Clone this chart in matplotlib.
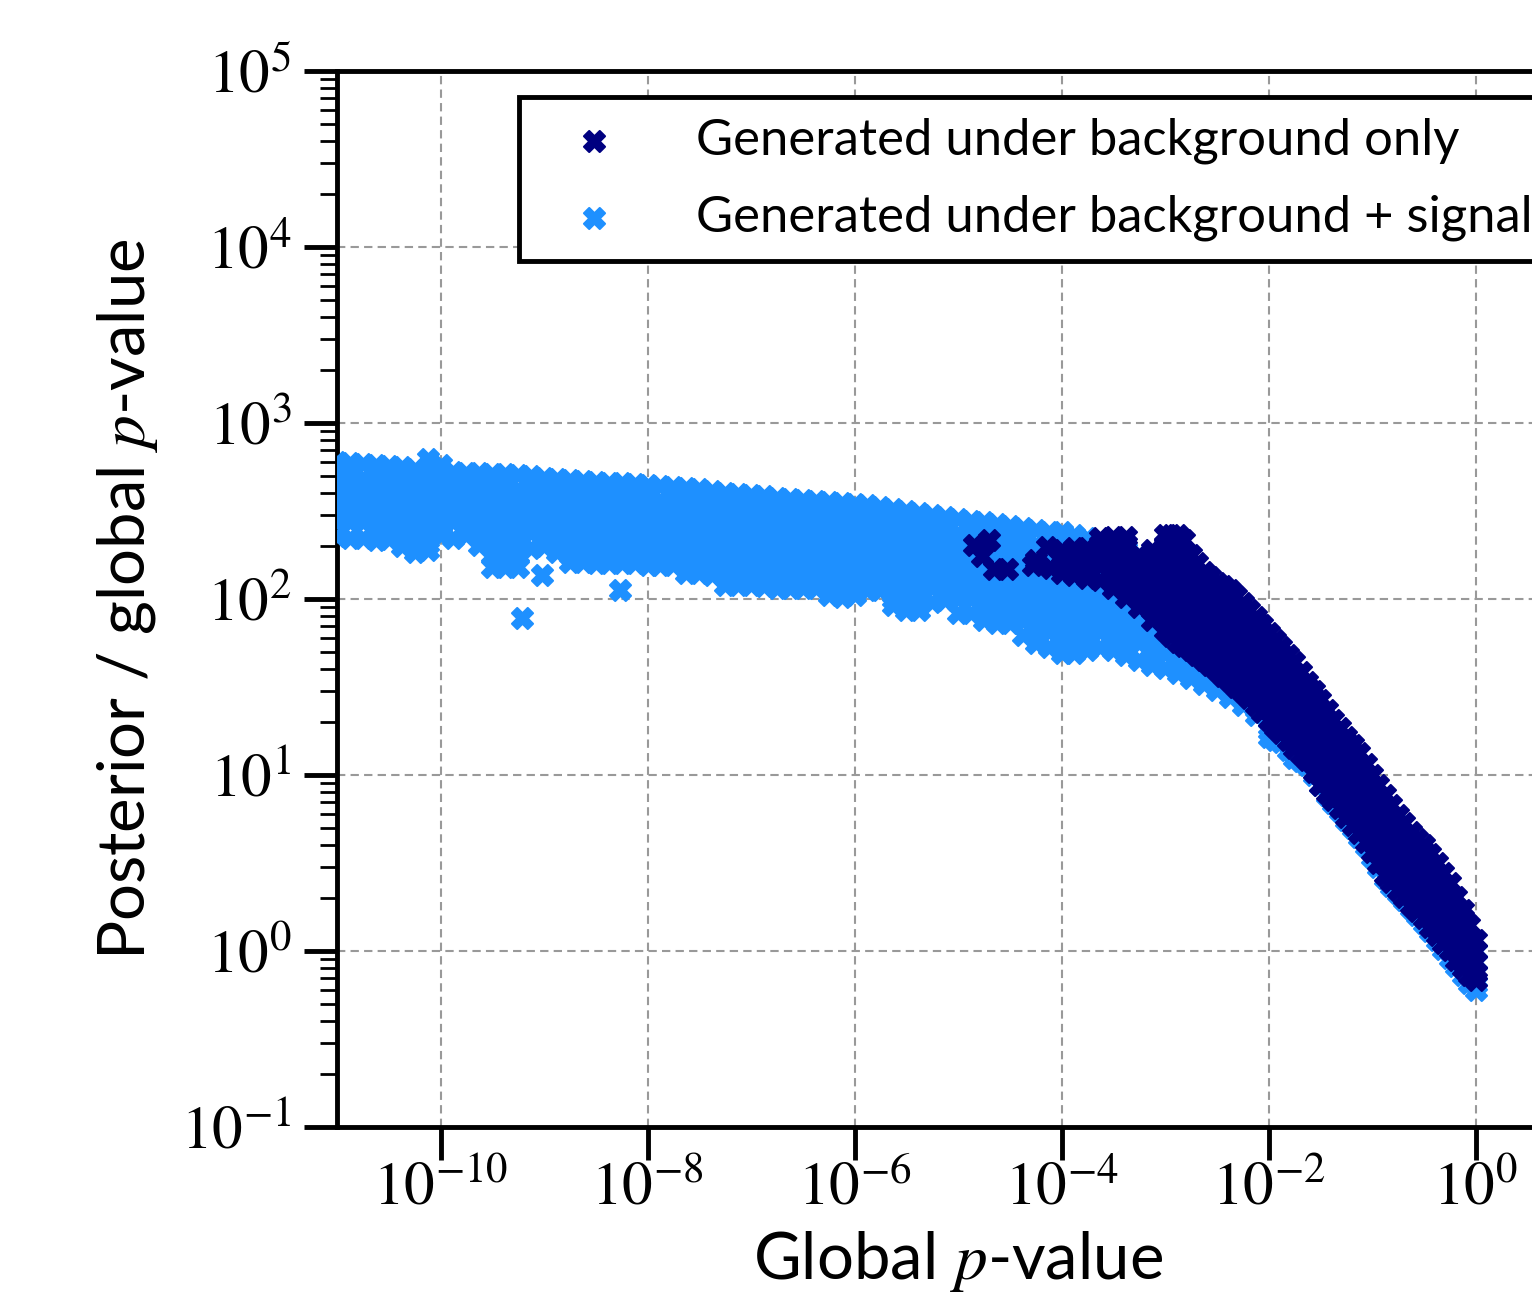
import matplotlib
matplotlib.use("Agg")
import matplotlib.pyplot as plt
from matplotlib.ticker import LogLocator, NullLocator, NullFormatter

plt.rcParams['font.family'] = ['Lato', 'DejaVu Sans']
plt.rcParams['mathtext.fontset'] = 'stix'

# ---------------- data ----------------
# columns of the "background + signal" cloud: global p-value and the
# posterior/global-p ratios observed at that p-value
signal_col_p = [
    1.00e-11, 1.33e-11, 1.78e-11, 2.37e-11, 3.16e-11, 4.22e-11, 5.62e-11, 7.50e-11,
    1.00e-10, 1.33e-10, 1.78e-10, 2.37e-10, 3.16e-10, 4.22e-10, 5.62e-10, 7.50e-10,
    1.00e-9, 1.33e-9, 1.78e-9, 2.37e-9, 3.16e-9, 4.22e-9, 5.62e-9, 7.50e-9,
    1.00e-8, 1.33e-8, 1.78e-8, 2.37e-8, 3.16e-8, 4.22e-8, 5.62e-8, 7.50e-8,
    1.00e-7, 1.33e-7, 1.78e-7, 2.37e-7, 3.16e-7, 4.22e-7, 5.62e-7, 7.50e-7,
    1.00e-6, 1.33e-6, 1.78e-6, 2.37e-6, 3.16e-6, 4.22e-6, 5.62e-6, 7.50e-6,
    1.00e-5, 1.33e-5, 1.78e-5, 2.37e-5, 3.16e-5, 4.22e-5, 5.62e-5, 7.50e-5,
    1.00e-4, 1.33e-4, 1.78e-4, 2.37e-4, 3.16e-4, 4.22e-4, 5.62e-4, 7.50e-4,
    1.00e-3, 1.33e-3, 1.78e-3, 2.37e-3, 3.16e-3, 4.22e-3, 5.62e-3, 7.50e-3,
    1.00e-2, 1.33e-2, 1.78e-2, 2.37e-2, 3.16e-2, 4.22e-2, 5.62e-2, 7.50e-2,
    1.00e-1, 1.33e-1, 1.78e-1, 2.37e-1, 3.16e-1, 4.22e-1, 5.62e-1, 7.50e-1,
    1.00,
]
signal_col_ratio = [
    [600, 562, 487, 422, 365, 316, 274, 228],
    [593, 562, 487, 422, 365, 316, 274, 222],
    [585, 487, 422, 365, 316, 274, 222],
    [577, 487, 422, 365, 316, 274, 237, 216],
    [570, 487, 422, 365, 316, 274, 237, 219],
    [562, 487, 422, 365, 316, 274, 237, 200],
    [548, 487, 422, 365, 316, 274, 237, 205, 185],
    [624, 562, 487, 422, 365, 316, 274, 237, 205, 190],
    [577, 487, 422, 365, 316, 274, 231],
    [527, 487, 422, 365, 316, 274, 222],
    [520, 487, 422, 365, 316, 274, 231],
    [520, 487, 422, 365, 316, 274, 237, 203],
    [514, 487, 422, 365, 316, 274, 237, 205, 178, 152],
    [514, 487, 422, 365, 316, 274, 237, 205, 178, 152],
    [507, 422, 365, 316, 274, 237, 205, 178, 152],
    [500, 422, 365, 316, 274, 237, 195],
    [487, 422, 365, 316, 274, 237, 200],
    [481, 422, 365, 316, 274, 237, 205, 185],
    [474, 422, 365, 316, 274, 237, 205, 178, 163],
    [468, 422, 365, 316, 274, 237, 205, 178, 163],
    [462, 422, 365, 316, 274, 237, 205, 178, 160],
    [456, 422, 365, 316, 274, 237, 205, 178, 160],
    [456, 422, 365, 316, 274, 237, 205, 178, 160],
    [450, 422, 365, 316, 274, 237, 205, 178, 160],
    [445, 422, 365, 316, 274, 237, 205, 178, 157],
    [439, 365, 316, 274, 237, 205, 178, 157],
    [433, 365, 316, 274, 237, 205, 178, 156],
    [427, 365, 316, 274, 237, 205, 178, 154, 140],
    [422, 365, 316, 274, 237, 205, 178, 154, 140],
    [412, 365, 316, 274, 237, 205, 178, 154, 137],
    [400, 365, 316, 274, 237, 205, 178, 154, 133, 120],
    [395, 365, 316, 274, 237, 205, 178, 154, 133, 120],
    [390, 365, 316, 274, 237, 205, 178, 154, 133, 120],
    [385, 365, 316, 274, 237, 205, 178, 154, 133, 118],
    [375, 316, 274, 237, 205, 178, 154, 133, 116],
    [370, 316, 274, 237, 205, 178, 154, 133, 116],
    [365, 316, 274, 237, 205, 178, 154, 133, 116],
    [360, 316, 274, 237, 205, 178, 154, 133, 115],
    [355, 316, 274, 237, 205, 178, 154, 133, 115, 105],
    [351, 316, 274, 237, 205, 178, 154, 133, 115, 103],
    [346, 316, 274, 237, 205, 178, 154, 133, 115, 106],
    [342, 316, 274, 237, 205, 178, 154, 133, 112],
    [333, 316, 274, 237, 205, 178, 154, 133, 112],
    [324, 274, 237, 205, 178, 154, 133, 115, 100, 92.5],
    [316, 274, 237, 205, 178, 154, 133, 115, 100, 86.6],
    [308, 274, 237, 205, 178, 154, 133, 115, 100, 86.6],
    [300, 274, 237, 205, 178, 154, 133, 115, 96],
    [292, 274, 237, 205, 178, 154, 133, 115, 98.7],
    [285, 237, 205, 178, 154, 133, 115, 100, 83],
    [277, 237, 205, 178, 154, 133, 115, 100, 83],
    [274, 237, 205, 178, 154, 133, 115, 100, 86.6, 76],
    [267, 237, 205, 178, 154, 133, 115, 100, 86.6, 73.5],
    [260, 237, 205, 178, 154, 133, 115, 100, 86.6, 73.5],
    [253, 237, 205, 178, 154, 133, 115, 100, 86.6, 75, 62.4],
    [247, 205, 178, 154, 133, 115, 100, 86.6, 75, 64.9, 56],
    [240, 205, 178, 154, 133, 115, 100, 86.6, 75, 64.9, 53.5],
    [240, 205, 178, 154, 133, 115, 100, 86.6, 75, 64.9, 56.2, 49.5],
    [231, 205, 178, 154, 133, 115, 100, 86.6, 75, 64.9, 56.2, 49.5],
    [222, 205, 178, 154, 133, 115, 100, 86.6, 75, 64.9, 56.2, 51.3],
    [216, 205, 178, 154, 133, 115, 100, 86.6, 75, 64.9, 53.5],
    [203, 178, 154, 133, 115, 100, 86.6, 75, 64.9, 56.2, 51.3],
    [190, 178, 154, 133, 115, 100, 86.6, 75, 64.9, 56.2, 48],
    [178, 154, 133, 115, 100, 86.6, 75, 64.9, 56.2, 45],
    [167, 154, 133, 115, 100, 86.6, 75, 64.9, 56.2, 48.7, 42.2],
    [156, 133, 115, 100, 86.6, 75, 64.9, 56.2, 48.7, 40.5],
    [146, 133, 115, 100, 86.6, 75, 64.9, 56.2, 48.7, 42.2, 38],
    [137, 115, 100, 86.6, 75, 64.9, 56.2, 48.7, 42.2, 35.5],
    [120, 100, 86.6, 75, 64.9, 56.2, 48.7, 42.2, 36.5, 33],
    [105, 86.6, 75, 64.9, 56.2, 48.7, 42.2, 36.5, 30.4],
    [92.5, 75, 64.9, 56.2, 48.7, 42.2, 36.5, 31.6, 27.9],
    [81, 64.9, 56.2, 48.7, 42.2, 36.5, 31.6, 27.4, 25],
    [66.7, 56.2, 48.7, 42.2, 36.5, 31.6, 27.4, 23.7, 22],
    [54.8, 48.7, 42.2, 36.5, 31.6, 27.4, 23.7, 20.5, 17.8, 16.4],
    [45, 36.5, 31.6, 27.4, 23.7, 20.5, 17.8, 15.4],
    [37, 31.6, 27.4, 23.7, 20.5, 17.8, 15.4, 13.3, 12.5],
    [28.5, 23.7, 20.5, 17.8, 15.4, 13.3, 11.4],
    [22, 17.8, 15.4, 13.3, 11.5, 10, 8.8],
    [17.6, 15.4, 13.3, 11.5, 10, 8.66, 6.9],
    [13.9, 11.5, 10, 8.66, 7.5, 6.49, 5.55],
    [11.1, 8.66, 7.5, 6.49, 5.62, 4.44],
    [8.45, 7.5, 6.49, 5.62, 4.87, 4.22, 3.42],
    [6.49, 5.62, 4.87, 4.22, 3.65, 3.16, 2.6],
    [5.2, 4.22, 3.65, 3.16, 2.74, 2.37, 2.14],
    [4.16, 3.65, 3.16, 2.74, 2.37, 2.05, 1.76],
    [3.29, 2.74, 2.37, 2.05, 1.78, 1.44],
    [2.6, 2.05, 1.78, 1.54, 1.33, 1.15],
    [1.95, 1.78, 1.54, 1.33, 1.15, 1.0, 0.91],
    [1.41, 1.15, 1.0, 0.866, 0.73],
    [1.0, 0.866, 0.75, 0.65, 0.60],
]
# extra "background + signal" columns along the steep lower edge
signal_mid_p = [
    1.15e-2, 1.54e-2, 2.05e-2, 2.74e-2, 3.65e-2, 4.87e-2, 6.49e-2, 8.66e-2,
    1.15e-1, 1.54e-1, 2.05e-1, 2.74e-1, 3.65e-1, 4.87e-1, 6.49e-1, 8.66e-1,
]
signal_mid_ratio = [
    [27.4, 23.7, 20.5, 17.8, 15.8],
    [23.7, 20.5, 17.8, 15.4, 13.9],
    [20.5, 17.8, 15.4, 13.3, 12],
    [17.8, 15.4, 13.3, 11.5, 10],
    [13.3, 11.5, 10, 8.66, 7.7],
    [11.5, 10, 8.66, 7.5, 6.25],
    [8.66, 7.5, 6.49, 5.62, 5.0],
    [6.49, 5.62, 4.87, 3.95],
    [4.87, 4.22, 3.65, 3.0],
    [3.65, 3.16, 2.74, 2.34],
    [3.16, 2.74, 2.37, 1.95],
    [2.37, 2.05, 1.78, 1.6],
    [2.05, 1.78, 1.54, 1.3],
    [1.54, 1.33, 1.15, 1.03],
    [1.33, 1.15, 1.0, 0.82],
    [1.0, 0.866, 0.75, 0.66],
]
# isolated "background + signal" points below the main band
signal_extra_p = [6.07e-10, 9.46e-10, 5.37e-9]
signal_extra_ratio = [78, 137, 112]

# columns of the "background only" cloud
bkg_col_p = [
    1.00e-4, 1.33e-4, 1.78e-4, 2.37e-4, 3.16e-4, 4.22e-4, 5.62e-4, 7.50e-4,
    1.00e-3, 1.33e-3, 1.78e-3, 2.37e-3, 3.16e-3, 4.22e-3, 5.62e-3, 7.50e-3,
    1.00e-2, 1.33e-2, 1.78e-2, 2.37e-2, 3.16e-2, 4.22e-2, 5.62e-2, 7.50e-2,
    1.00e-1, 1.33e-1, 1.78e-1, 2.37e-1, 3.16e-1, 4.22e-1, 5.62e-1, 7.50e-1,
    1.00,
]
bkg_col_ratio = [
    [190, 178, 154, 140],
    [195, 178, 154, 137],
    [196, 178, 154, 131],
    [222, 205, 178, 154, 128],
    [225, 205, 178, 154, 133, 115],
    [225, 205, 178, 154, 133, 115, 103],
    [178, 154, 133, 115, 100, 90],
    [190, 178, 154, 133, 115, 100, 86.6, 76],
    [231, 205, 178, 154, 133, 115, 100, 86.6, 75, 66.7],
    [231, 205, 178, 154, 133, 115, 100, 86.6, 75, 64.9, 57],
    [178, 154, 133, 115, 100, 86.6, 75, 64.9, 56.2, 51.3],
    [142, 133, 115, 100, 86.6, 75, 64.9, 56.2, 48.7, 45],
    [124, 115, 100, 86.6, 75, 64.9, 56.2, 48.7, 39.5],
    [112, 100, 86.6, 75, 64.9, 56.2, 48.7, 42.2, 34],
    [95, 86.6, 75, 64.9, 56.2, 48.7, 42.2, 36.5, 29.6],
    [79, 75, 64.9, 56.2, 48.7, 42.2, 36.5, 31.6, 27.4, 25],
    [64, 56.2, 48.7, 42.2, 36.5, 31.6, 27.4, 23.7, 20.5],
    [53.5, 48.7, 42.2, 36.5, 31.6, 27.4, 23.7, 20.5, 17.3],
    [43.8, 36.5, 31.6, 27.4, 23.7, 20.5, 17.8, 15.4, 14.2],
    [33.8, 31.6, 27.4, 23.7, 20.5, 17.8, 15.4, 13.3, 12.2],
    [26.7, 23.7, 20.5, 17.8, 15.4, 13.3, 11.5, 10, 8.8],
    [20.5, 17.8, 15.4, 13.3, 11.5, 10, 8.66, 7.2],
    [16.4, 15.4, 13.3, 11.5, 10, 8.66, 7.5, 6.49, 5.77],
    [13.3, 11.5, 10, 8.66, 7.5, 6.49, 5.62, 4.68],
    [10, 8.66, 7.5, 6.49, 5.62, 4.87, 4.22, 3.65],
    [7.68, 6.49, 5.62, 4.87, 4.22, 3.65, 3.16, 2.7],
    [5.9, 4.87, 4.22, 3.65, 3.16, 2.74, 2.22],
    [4.74, 4.22, 3.65, 3.16, 2.74, 2.37, 2.05, 1.83],
    [4.0, 3.65, 3.16, 2.74, 2.37, 2.05, 1.78, 1.54],
    [3.16, 2.74, 2.37, 2.05, 1.78, 1.54, 1.33, 1.23],
    [2.43, 2.05, 1.78, 1.54, 1.33, 1.15, 1.01],
    [1.71, 1.54, 1.33, 1.15, 1.0, 0.866, 0.80],
    [1.15, 1.0, 0.866, 0.75, 0.684],
]
# extra "background only" columns between the ones above
bkg_mid_p = [
    1.15e-3, 1.54e-3, 2.05e-3, 2.74e-3, 3.65e-3, 4.87e-3, 6.49e-3, 8.66e-3,
    1.15e-2, 1.54e-2, 2.05e-2, 2.74e-2, 3.65e-2, 4.87e-2, 6.49e-2, 8.66e-2,
    1.15e-1, 1.54e-1, 2.05e-1, 2.74e-1, 3.65e-1, 4.87e-1, 6.49e-1, 8.66e-1,
]
bkg_mid_ratio = [
    [231, 205, 178, 154, 133, 115, 100, 86.6, 75, 61.6],
    [216, 178, 154, 133, 115, 100, 86.6, 75, 64.9, 54],
    [160, 133, 115, 100, 86.6, 75, 64.9, 56.2, 48],
    [133, 115, 100, 86.6, 75, 64.9, 56.2, 48.7, 42.2],
    [118, 100, 86.6, 75, 64.9, 56.2, 48.7, 42.2, 36.5],
    [104, 86.6, 75, 64.9, 56.2, 48.7, 42.2, 36.5, 31.6],
    [86.6, 75, 64.9, 56.2, 48.7, 42.2, 36.5, 31.6, 27.4],
    [71.2, 64.9, 56.2, 48.7, 42.2, 36.5, 31.6, 27.4, 22.8],
    [58.5, 48.7, 42.2, 36.5, 31.6, 27.4, 23.7, 20.5, 18.8],
    [48.1, 42.2, 36.5, 31.6, 27.4, 23.7, 20.5, 17.8, 15.8],
    [38.6, 31.6, 27.4, 23.7, 20.5, 17.8, 15.4, 13.1],
    [30, 27.4, 23.7, 20.5, 17.8, 15.4, 13.3, 11.5, 10.4],
    [23.4, 20.5, 17.8, 15.4, 13.3, 11.5, 10, 7.9],
    [18.4, 15.4, 13.3, 11.5, 10, 8.66, 7.5, 6.49],
    [14.8, 13.3, 11.5, 10, 8.66, 7.5, 6.49, 5.2],
    [11.5, 10, 8.66, 7.5, 6.49, 5.62, 4.87, 4.16],
    [8.8, 7.5, 6.49, 5.62, 4.87, 4.22, 3.65, 3.16],
    [6.75, 5.62, 4.87, 4.22, 3.65, 3.16, 2.74, 2.47],
    [5.33, 4.22, 3.65, 3.16, 2.74, 2.37, 2.03],
    [4.33, 3.65, 3.16, 2.74, 2.37, 2.05, 1.69],
    [3.56, 3.16, 2.74, 2.37, 2.05, 1.78, 1.54, 1.37],
    [2.77, 2.37, 2.05, 1.78, 1.54, 1.33, 1.11],
    [2.03, 1.78, 1.54, 1.33, 1.15, 1.0, 0.89],
    [1.41, 1.15, 1.0, 0.866, 0.73],
]
# isolated "background only" points left of the main band
bkg_extra_p = [1.44e-5, 2.0e-5, 1.7e-5, 2.25e-5, 3.0e-5, 5.25e-5, 5.7e-5, 7.2e-5, 7.9e-5]
bkg_extra_ratio = [203, 216, 176, 149, 149, 156, 167, 197, 151]

labels = ["Generated under background only", "Generated under background + signal"]
x_ticks = [1e-10, 1e-8, 1e-6, 1e-4, 1e-2, 1e0]
y_ticks = [1e-1, 1e0, 1e1, 1e2, 1e3, 1e4, 1e5]


def gather(column_groups, extra_p, extra_r):
    xs, ys = [], []
    for col_p, col_r in column_groups:
        for p, rs in zip(col_p, col_r):
            xs.extend([p] * len(rs))
            ys.extend(rs)
    xs.extend(extra_p)
    ys.extend(extra_r)
    return xs, ys


sig_x, sig_y = gather([(signal_col_p, signal_col_ratio), (signal_mid_p, signal_mid_ratio)],
                      signal_extra_p, signal_extra_ratio)
bkg_x, bkg_y = gather([(bkg_col_p, bkg_col_ratio), (bkg_mid_p, bkg_mid_ratio)],
                      bkg_extra_p, bkg_extra_ratio)

# ---------------- figure ----------------
W, H = 1532, 1293
fig = plt.figure(figsize=(W / 100, H / 100), dpi=100)
ax = fig.add_axes([337 / W, (H - 1127) / H, 1242 / W, 1056 / H])

ms = 230
light, dark = '#1E90FF', '#000080'
h_sig = ax.scatter(sig_x, sig_y, marker='X', s=ms, facecolor=light, edgecolor=light,
                   linewidths=1.5, zorder=3)
h_bkg = ax.scatter(bkg_x, bkg_y, marker='X', s=ms, facecolor=dark, edgecolor=dark,
                   linewidths=1.5, zorder=4)

ax.set_xscale('log')
ax.set_yscale('log')
ax.set_xlim(1e-11, 1e1)
ax.set_ylim(1e-1, 1e5)
ax.set_xticks(x_ticks)
ax.xaxis.set_minor_locator(NullLocator())
ax.set_yticks(y_ticks)
ax.yaxis.set_minor_locator(LogLocator(base=10, subs=[2, 3, 4, 5, 6, 7, 8, 9], numticks=20))
ax.yaxis.set_minor_formatter(NullFormatter())

for side in ['left', 'bottom', 'top']:
    ax.spines[side].set_linewidth(3.5)
ax.spines['right'].set_visible(False)

ax.tick_params(which='major', length=24, width=3.5, labelsize=44,
               labelfontfamily='STIXGeneral', direction='out')
ax.tick_params(axis='x', which='major', pad=1)
ax.tick_params(axis='y', which='major', pad=9)
ax.tick_params(which='minor', length=12, width=2)

ax.grid(True, which='major', color='#999999', linestyle=(0, (4, 2.5)), linewidth=1.5, zorder=0)
ax.set_axisbelow(True)

ax.set_xlabel('Global $p$-value', fontsize=47)
ax.xaxis.label.set_verticalalignment('baseline')
ax.xaxis.set_label_coords(0.5, (1127 - 1279) / 1056)
ax.set_ylabel('Posterior / global $p$-value', fontsize=47)
ax.yaxis.set_label_coords((160 - 337) / 1242, 0.5)

leg = ax.legend([h_bkg, h_sig], labels, loc='upper left',
                bbox_to_anchor=((519 - 337) / 1242, (1127 - 97) / 1056),
                borderaxespad=0, frameon=True, fancybox=False, framealpha=1,
                edgecolor='black', fontsize=36.5, scatterpoints=1,
                handlelength=2.15, handletextpad=0.95, labelspacing=0.6)
leg.get_frame().set_linewidth(3.5)
leg.set_zorder(10)

fig.savefig('out.png', dpi=100)
